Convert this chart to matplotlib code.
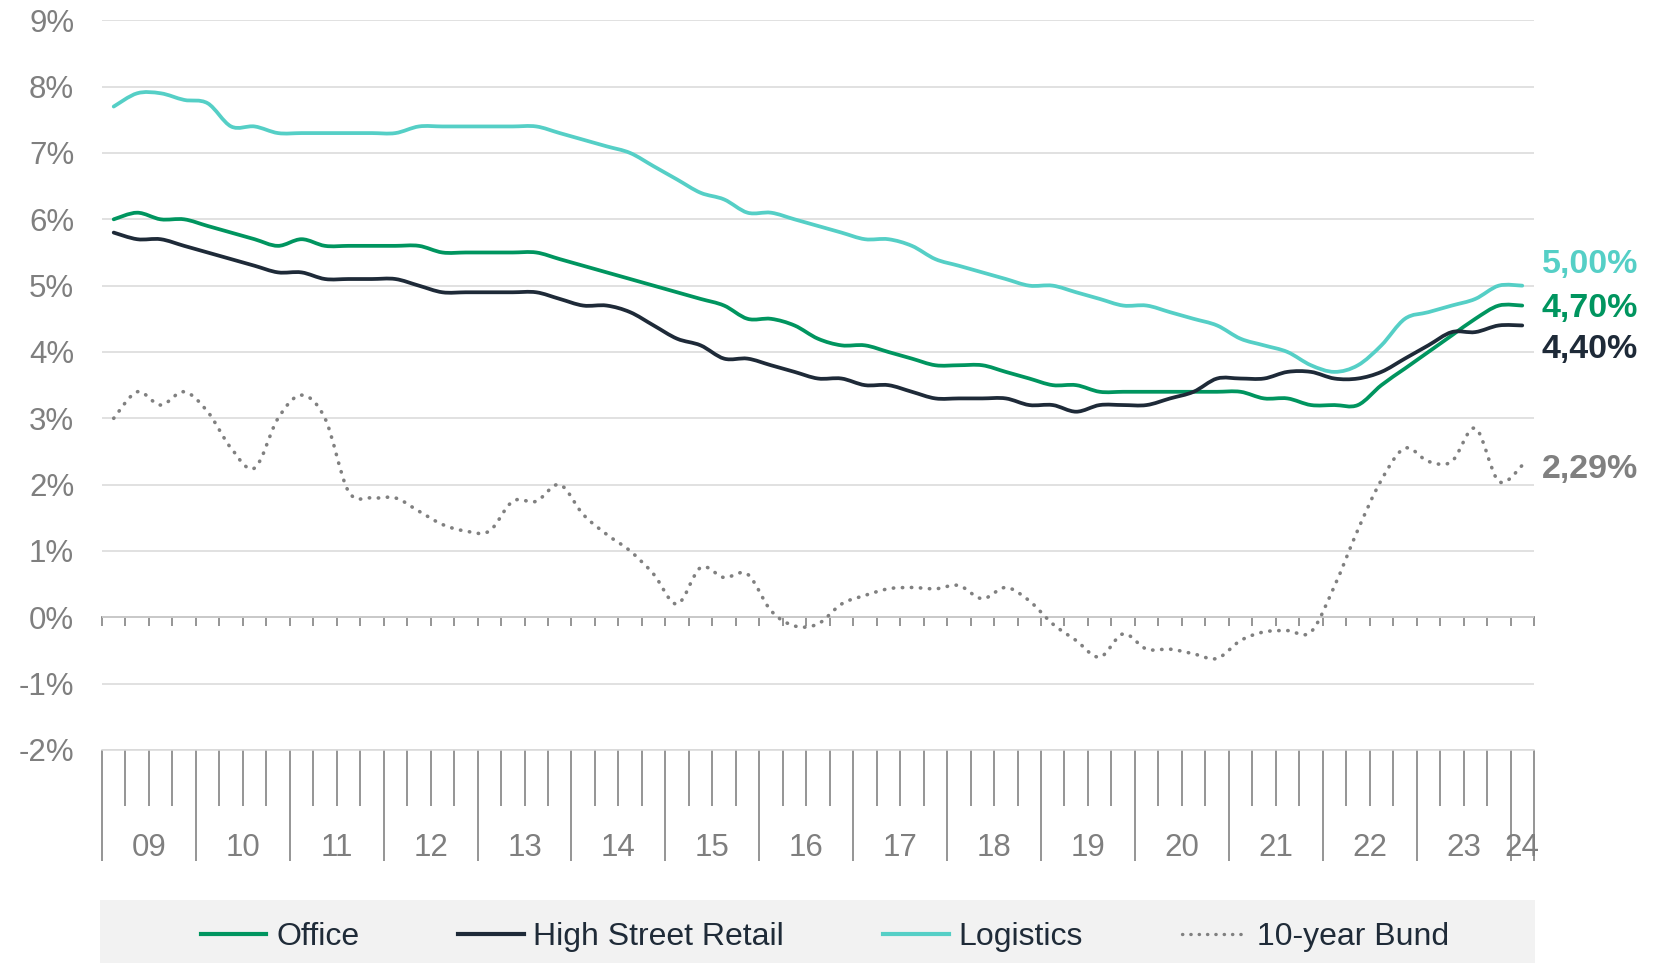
import numpy as np
import matplotlib
matplotlib.use("Agg")
import matplotlib.pyplot as plt
from matplotlib.path import Path
from matplotlib.patches import PathPatch, Rectangle
from matplotlib.lines import Line2D

plt.rcParams["font.family"] = ["Liberation Sans", "DejaVu Sans"]

# prime yields, quarterly Q1 2009 .. Q1 2024 (in %)
office = [6.0, 6.1, 6.0, 6.0, 5.9, 5.8, 5.7, 5.6, 5.7, 5.6, 5.6, 5.6, 5.6, 5.6, 5.5, 5.5,
          5.5, 5.5, 5.5, 5.4, 5.3, 5.2, 5.1, 5.0, 4.9, 4.8, 4.7, 4.5, 4.5, 4.4, 4.2,
          4.1, 4.1, 4.0, 3.9, 3.8, 3.8, 3.8, 3.7, 3.6, 3.5, 3.5, 3.4, 3.4, 3.4, 3.4,
          3.4, 3.4, 3.4, 3.3, 3.3, 3.2, 3.2, 3.2, 3.5, 3.75, 4.0, 4.25, 4.5, 4.7, 4.7]
retail = [5.8, 5.7, 5.7, 5.6, 5.5, 5.4, 5.3, 5.2, 5.2, 5.1, 5.1, 5.1, 5.1, 5.0, 4.9, 4.9,
          4.9, 4.9, 4.9, 4.8, 4.7, 4.7, 4.6, 4.4, 4.2, 4.1, 3.9, 3.9, 3.8, 3.7, 3.6,
          3.6, 3.5, 3.5, 3.4, 3.3, 3.3, 3.3, 3.3, 3.2, 3.2, 3.1, 3.2, 3.2, 3.2, 3.3,
          3.4, 3.6, 3.6, 3.6, 3.7, 3.7, 3.6, 3.6, 3.7, 3.9, 4.1, 4.3, 4.3, 4.4, 4.4]
logistics = [7.7, 7.9, 7.9, 7.8, 7.75, 7.4, 7.4, 7.3, 7.3, 7.3, 7.3, 7.3, 7.3, 7.4, 7.4, 7.4,
             7.4, 7.4, 7.4, 7.3, 7.2, 7.1, 7.0, 6.8, 6.6, 6.4, 6.3, 6.1, 6.1, 6.0, 5.9,
             5.8, 5.7, 5.7, 5.6, 5.4, 5.3, 5.2, 5.1, 5.0, 5.0, 4.9, 4.8, 4.7, 4.7, 4.6,
             4.5, 4.4, 4.2, 4.1, 4.0, 3.8, 3.7, 3.8, 4.1, 4.5, 4.6, 4.7, 4.8, 5.0, 5.0]
bund = [3.0, 3.4, 3.2, 3.4, 3.1, 2.55, 2.25, 3.0, 3.35, 3.0, 1.9, 1.8, 1.8, 1.6, 1.4, 1.3,
        1.3, 1.75, 1.75, 2.0, 1.55, 1.25, 1.0, 0.65, 0.2, 0.75, 0.6, 0.65, 0.1, -0.13, -0.1,
        0.2, 0.33, 0.43, 0.45, 0.43, 0.48, 0.28, 0.45, 0.25, -0.1, -0.35, -0.6, -0.25, -0.48, -0.48,
        -0.55, -0.62, -0.35, -0.22, -0.2, -0.22, 0.47, 1.32, 2.07, 2.55, 2.35, 2.35, 2.85, 2.05, 2.29]

names = ["Office", "High Street Retail", "Logistics", "10-year Bund"]
end_labels = ["4,70%", "4,40%", "5,00%", "2,29%"]
years = ["09", "10", "11", "12", "13", "14", "15", "16", "17", "18", "19",
         "20", "21", "22", "23", "24"]
ytick_labels = ["-2%", "-1%", "0%", "1%", "2%", "3%", "4%", "5%", "6%", "7%", "8%", "9%"]

colors = ["#00955f", "#1e2a38", "#55cfc6", "#808080"]
grey_txt = "#7f7f7f"
tick_grey = "#8c8c8c"


def smooth_path(x, y):
    # Excel-like smoothed line as cubic bezier segments through the points
    n = len(x)
    verts = [(x[0], y[0])]
    codes = [Path.MOVETO]
    for i in range(n - 1):
        a, d = max(i - 1, 0), min(i + 2, n - 1)
        c1 = (x[i] + (x[i + 1] - x[a]) / 6, y[i] + (y[i + 1] - y[a]) / 6)
        c2 = (x[i + 1] - (x[d] - x[i]) / 6, y[i + 1] - (y[d] - y[i]) / 6)
        verts += [c1, c2, (x[i + 1], y[i + 1])]
        codes += [Path.CURVE4] * 3
    return Path(verts, codes)


fig = plt.figure(figsize=(16.58, 9.63), dpi=100)
ax = fig.add_axes([0.0615, 0.2212, 0.8637, 0.7577])

n = len(office)
x = np.arange(n)
ax.set_xlim(-0.5, n - 0.5)
ax.set_ylim(-2, 9)

# grid / y axis
ax.set_yticks(range(-2, 10))
ax.set_yticklabels(ytick_labels)
ax.yaxis.grid(True, color="#d9d9d9", lw=1.1)
ax.set_axisbelow(True)
ax.tick_params(axis="y", length=0, pad=20, labelsize=22.5, labelcolor=grey_txt)
for s in ["left", "right", "top"]:
    ax.spines[s].set_visible(False)
ax.spines["bottom"].set_color("#d9d9d9")
ax.spines["bottom"].set_linewidth(1.1)

# category axis at the bottom: quarter and year separators
edges = np.arange(-0.5, n, 1.0)
year_edges = list(np.arange(-0.5, n - 1, 4.0)) + [n - 0.5]
ax.set_xticks(year_edges)
ax.set_xticks(edges, minor=True)
ax.tick_params(axis="x", which="major", length=80, width=1.3, color=tick_grey,
               labelbottom=False)
ax.tick_params(axis="x", which="minor", length=40, width=1.3, color=tick_grey)
year_centers = [4 * k + 1.5 for k in range(len(years) - 1)] + [n - 1]
for c, lab in zip(year_centers, years):
    ax.text(c, -0.135, lab, transform=ax.get_xaxis_transform(), ha="center",
            va="center", fontsize=22.5, color=grey_txt)

# 0% axis line with small tick marks
zero = ax.secondary_xaxis(2 / 11)
zero.set_xticks(edges)
zero.set_xticklabels([])
zero.tick_params(length=6.5, width=1.3, color=tick_grey)
zero.spines["bottom"].set_color(tick_grey)
zero.spines["bottom"].set_linewidth(1.3)

# lines
series = [office, retail, logistics, bund]
handles = []
for vals, col, name in zip(series, colors, names):
    dotted = name == "10-year Bund"
    ls = (0, (0.1, 2.4)) if dotted else "-"
    lw = 2.6 if dotted else 2.7
    p = PathPatch(smooth_path(x, np.array(vals)), fill=False, edgecolor=col, lw=lw,
                  linestyle=ls, capstyle="round", zorder=3)
    ax.add_patch(p)
    handles.append(Line2D([], [], color=col, lw=3.0 if not dotted else 2.4,
                          linestyle=ls, dash_capstyle="round"))

# end-of-line value labels
offsets = [-2, -17, 15, -3]
for vals, col, lab, dy in zip(series, colors, end_labels, offsets):
    ax.annotate(lab, xy=(n - 1, vals[-1]), xytext=(14, dy), textcoords="offset points",
                ha="left", va="center", fontsize=24.5, fontweight="bold", color=col,
                annotation_clip=False)

# legend band
fig.add_artist(Rectangle((100 / 1658, 0), 1435 / 1658, 63 / 963, transform=fig.transFigure,
                         facecolor="#f2f2f2", edgecolor="none", zorder=0))
fig.legend(handles, names, loc="center", bbox_to_anchor=(0.4975, 0.027), ncol=4,
           frameon=False, fontsize=23, handlelength=2.05, handletextpad=0.3,
           columnspacing=3.1, labelcolor="#1f2b38")

fig.savefig("out.png", dpi=100)
